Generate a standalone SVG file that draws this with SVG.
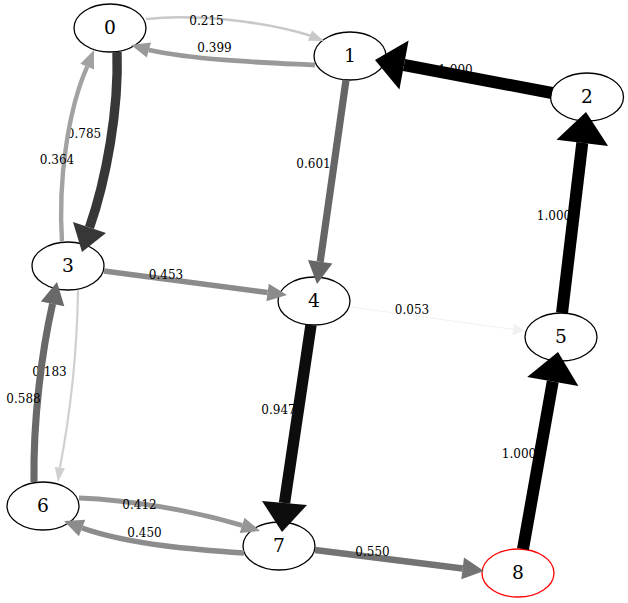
<svg xmlns="http://www.w3.org/2000/svg" width="628" height="603" viewBox="0 0 628 603">
  <style>
    .node ellipse { fill: #ffffff; stroke: #000000; stroke-width: 1.3; }
    .node text { font-family: "DejaVu Serif", "Liberation Serif", serif; font-size: 18.67px; text-anchor: middle; fill: #000000; }
    .edge path { fill: none; stroke-linecap: butt; }
    .edge text { font-family: "DejaVu Serif", "Liberation Serif", serif; font-size: 12px; text-anchor: middle; fill: #000000; }
  </style>
  <rect width="628" height="603" fill="#ffffff"/>

  <!-- nodes -->
  <g id="node0" class="node"><ellipse cx="110" cy="28" rx="36" ry="24"/><text x="110" y="34">0</text></g>
  <g id="node1" class="node"><ellipse cx="350" cy="56" rx="36" ry="24"/><text x="350" y="62">1</text></g>
  <g id="node2" class="node"><ellipse cx="587" cy="97" rx="36.5" ry="24"/><text x="587" y="103">2</text></g>
  <g id="node3" class="node"><ellipse cx="68" cy="266" rx="36" ry="24"/><text x="68" y="272">3</text></g>
  <g id="node4" class="node"><ellipse cx="314" cy="301" rx="36" ry="24"/><text x="314" y="307">4</text></g>
  <g id="node5" class="node"><ellipse cx="561" cy="337" rx="36" ry="24"/><text x="561" y="343">5</text></g>
  <g id="node6" class="node"><ellipse cx="43" cy="506" rx="36" ry="24"/><text x="43" y="512">6</text></g>
  <g id="node7" class="node"><ellipse cx="279" cy="546" rx="36" ry="24"/><text x="279" y="552">7</text></g>
  <g id="node8" class="node"><ellipse cx="518" cy="573" rx="36" ry="24" style="stroke:#ff0000"/><text x="518" y="579">8</text></g>

  <!-- connectors: stroke width and grey level follow the weight -->
  <g id="edges" class="edge">
    <g id="e0_1">
      <path d="M146,19 C190,14 260,20 310,35.6" stroke="#c8c8c8" stroke-width="2.6"/>
      <polygon points="324,41 308,40.7 312,30.5" fill="#c8c8c8"/>
      <text x="206.5" y="25">0.215</text>
    </g>
    <g id="e0_3">
      <path d="M117,52 C119,110 106,180 89.5,227.5" stroke="#373737" stroke-width="9.4"/>
      <polygon points="82,252 73,222 106,233" fill="#373737"/>
      <text x="84" y="138">0.785</text>
    </g>
    <g id="e1_0">
      <path d="M315,65 C275,63 200,61 148.9,50" stroke="#999999" stroke-width="4.8"/>
      <polygon points="131,45 151,42.4 146.8,57.6" fill="#999999"/>
      <text x="214.5" y="52">0.399</text>
    </g>
    <g id="e1_4">
      <path d="M346,80 L320.2,261.8" stroke="#666666" stroke-width="7.2"/>
      <polygon points="317,284 308,260.1 332.4,263.5" fill="#666666"/>
      <text x="313.5" y="168">0.601</text>
    </g>
    <g id="e2_1">
      <path d="M552,93 L404,65" stroke="#000000" stroke-width="12"/>
      <polygon points="375,60 408.6,40.4 399.4,89.6" fill="#000000"/>
      <text x="455.5" y="74">1.000</text>
    </g>
    <g id="e3_0">
      <path d="M62,242 C58,180 68,110 87.2,66.6" stroke="#a2a2a2" stroke-width="4.4"/>
      <polygon points="94,50 94,69.4 80.4,63.8" fill="#a2a2a2"/>
      <text x="57" y="164">0.364</text>
    </g>
    <g id="e3_4">
      <path d="M104,271 L267.6,292.5" stroke="#8b8b8b" stroke-width="5.4"/>
      <polygon points="287,295 266.4,301.3 268.8,283.7" fill="#8b8b8b"/>
      <text x="166" y="279">0.453</text>
    </g>
    <g id="e3_6">
      <path d="M78,290 C77,360 69,420 59.9,467.6" stroke="#d0d0d0" stroke-width="2.2"/>
      <polygon points="58,482 54.75,466.9 65,468.3" fill="#d0d0d0"/>
      <text x="49.5" y="376">0.183</text>
    </g>
    <g id="e4_5">
      <path d="M351,307 L513.1,329.4" stroke="#f1f1f1" stroke-width="1"/>
      <polygon points="525,331 512.3,334.95 513.9,323.85" fill="#f1f1f1"/>
      <text x="412" y="314">0.053</text>
    </g>
    <g id="e4_7">
      <path d="M311,325 L284.5,503" stroke="#0d0d0d" stroke-width="11.4"/>
      <polygon points="282,532 262,501 307,505" fill="#0d0d0d"/>
      <text x="278.5" y="414">0.947</text>
    </g>
    <g id="e5_2">
      <path d="M562,313 L582.3,142.8" stroke="#000000" stroke-width="12"/>
      <polygon points="586,112 608.1,145.9 556.5,139.7" fill="#000000"/>
      <text x="554" y="220">1.000</text>
    </g>
    <g id="e6_3">
      <path d="M34,482 C33,420 42,350 52.6,303.8" stroke="#696969" stroke-width="7.1"/>
      <polygon points="57,282 64.3,306.2 40.9,301.4" fill="#696969"/>
      <text x="23.5" y="403">0.588</text>
    </g>
    <g id="e6_7">
      <path d="M79,498 C130,500 190,510 242.1,525.4" stroke="#969696" stroke-width="4.9"/>
      <polygon points="260,531 239.7,533.1 244.5,517.7" fill="#969696"/>
      <text x="139.5" y="509">0.412</text>
    </g>
    <g id="e7_6">
      <path d="M244,553 C200,550 130,545 82.1,528" stroke="#8c8c8c" stroke-width="5.4"/>
      <polygon points="64,521 85.3,519.8 78.9,536.2" fill="#8c8c8c"/>
      <text x="144.5" y="537">0.450</text>
    </g>
    <g id="e7_8">
      <path d="M315,550 L462.7,568.4" stroke="#737373" stroke-width="6.6"/>
      <polygon points="484,571 461.3,579.3 464,557.5" fill="#737373"/>
      <text x="372.5" y="556">0.550</text>
    </g>
    <g id="e8_5">
      <path d="M523,549 L552.75,381.55" stroke="#000000" stroke-width="12"/>
      <polygon points="558,352 578.4,386.1 527.2,377" fill="#000000"/>
      <text x="519" y="458">1.000</text>
    </g>
  </g>
</svg>
